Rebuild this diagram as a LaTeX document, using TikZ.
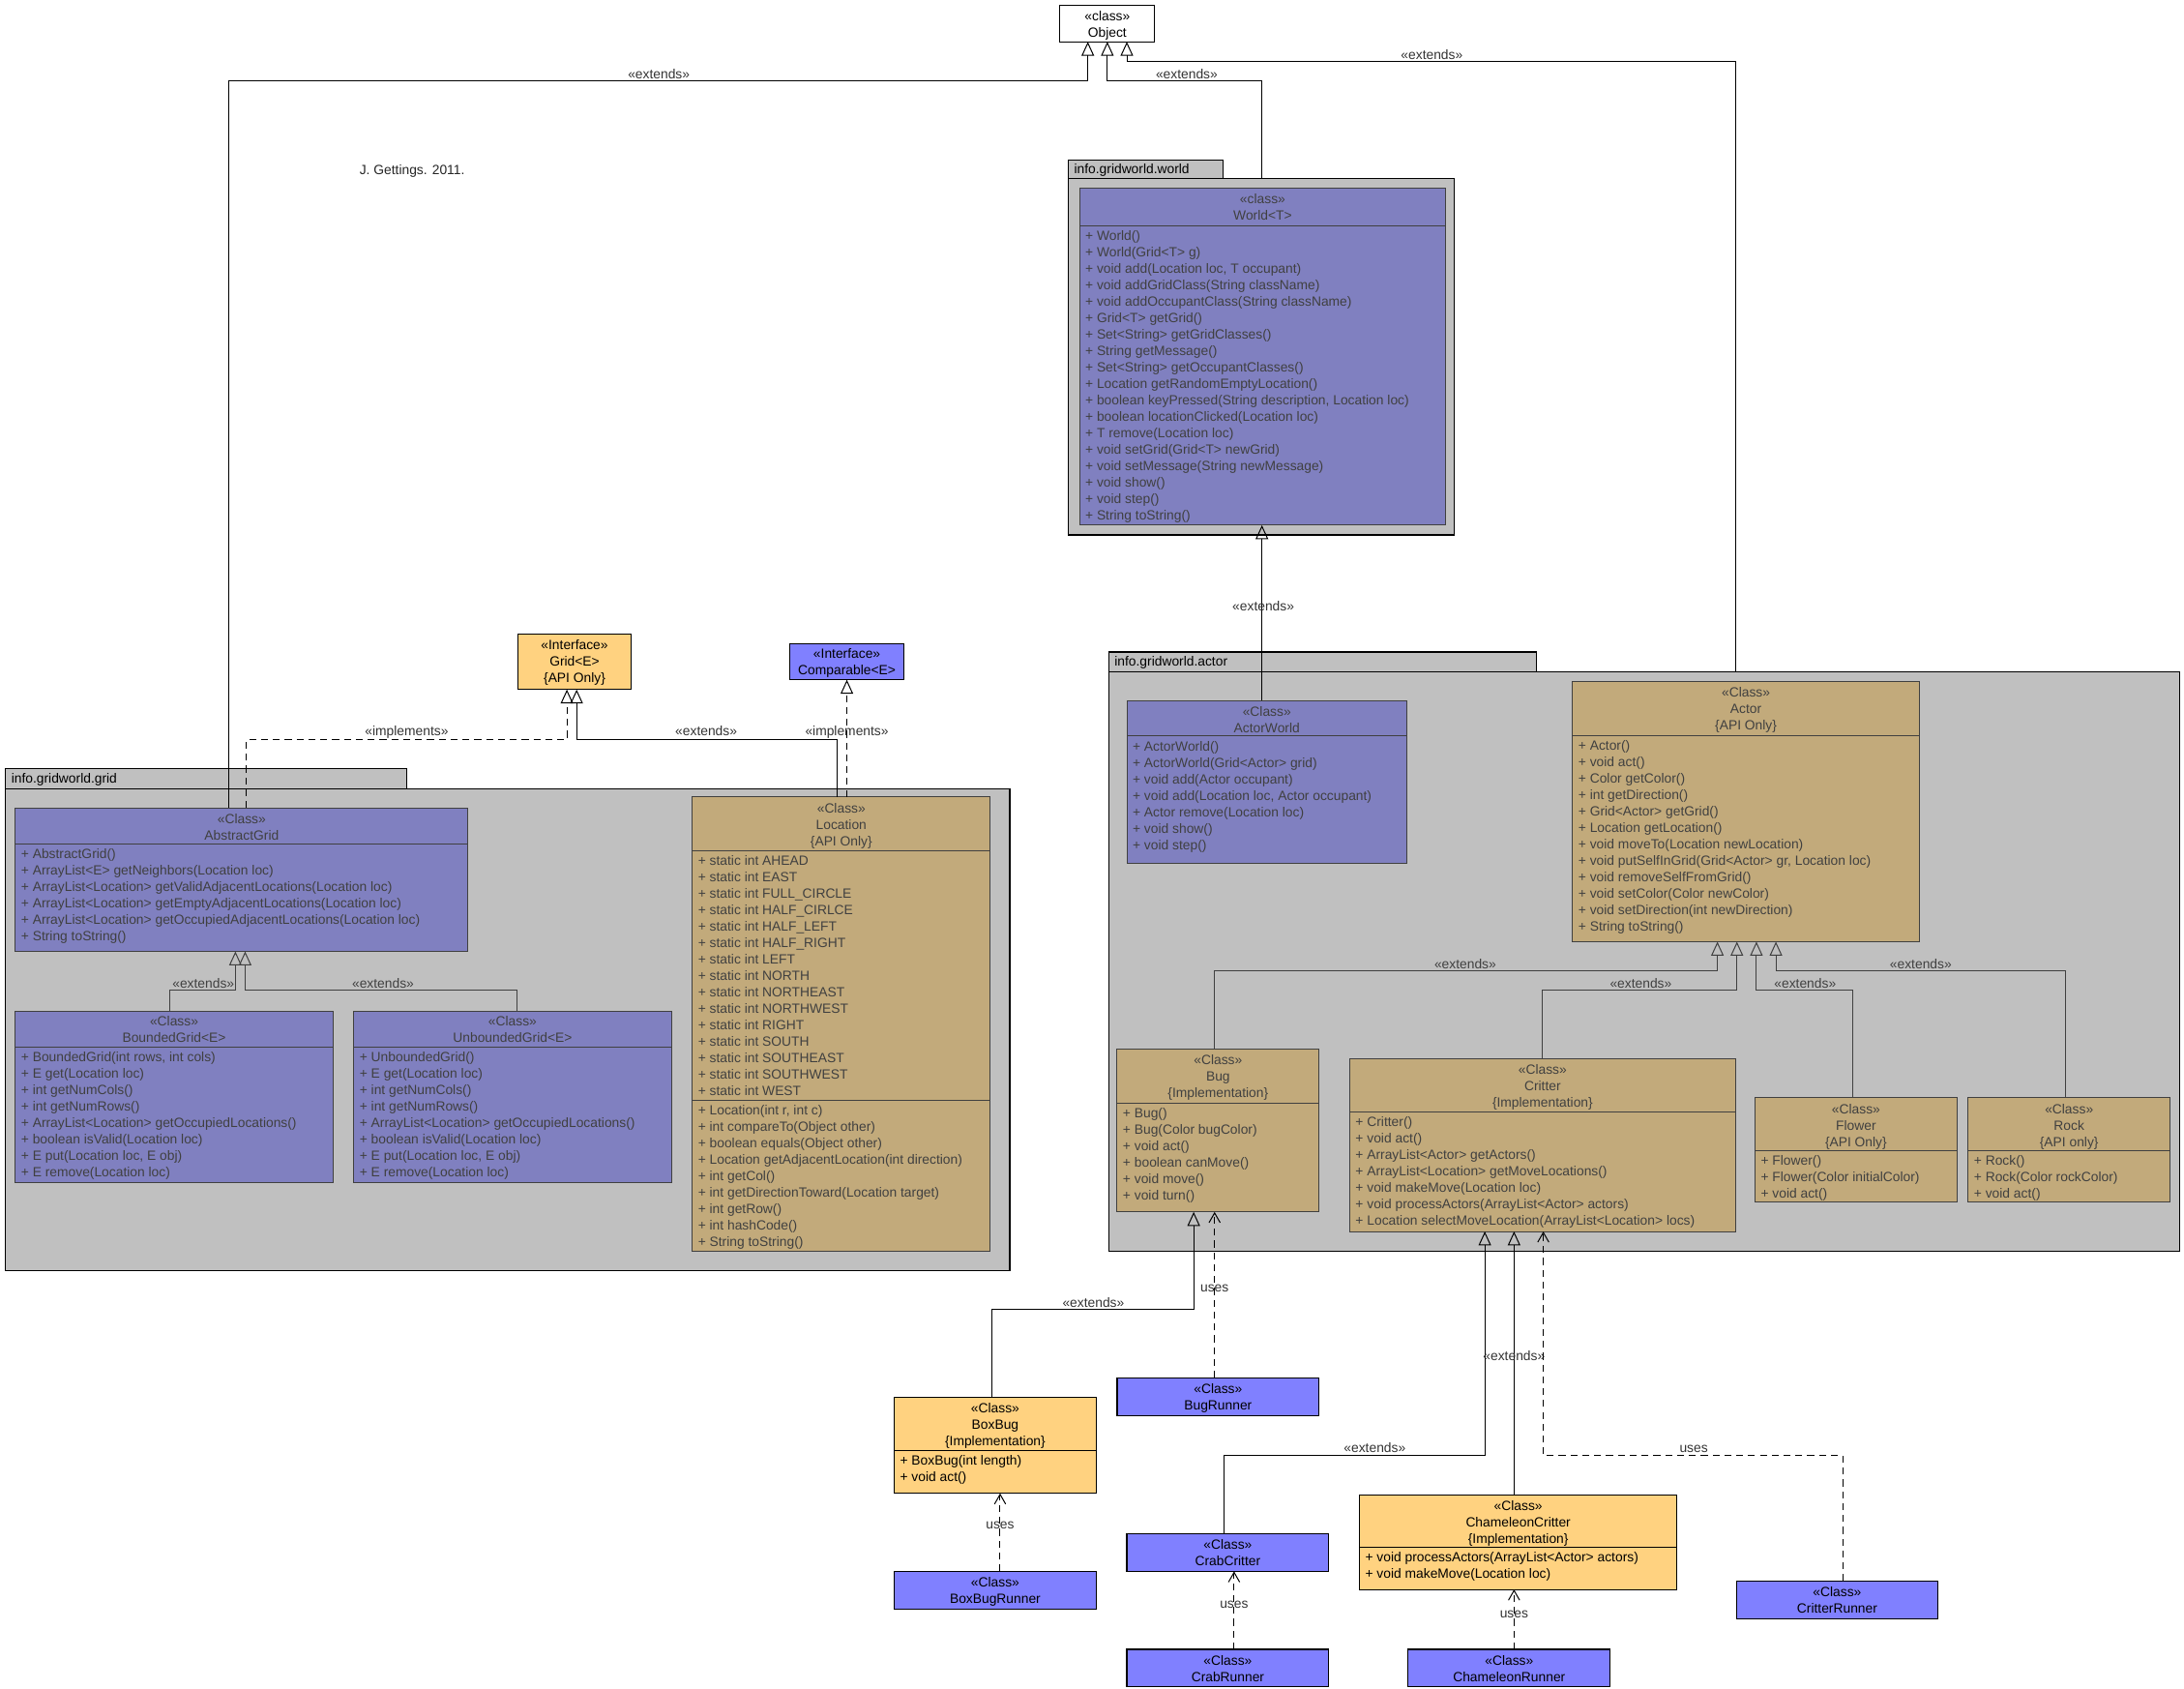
\documentclass[tikz,border=0pt]{standalone}
\usepackage{fontspec}
\setmainfont{Liberation Sans}
\usetikzlibrary{arrows.meta,fit}
\definecolor{pkgc}{HTML}{C0C0C0}
\definecolor{cblue}{HTML}{8080C0}
\definecolor{bblue}{HTML}{8080FF}
\definecolor{ctan}{HTML}{C2AA7B}
\definecolor{corange}{HTML}{FFD280}
\definecolor{dk}{HTML}{404040}
\tikzset{
  every node/.style={font=\fontsize{9.6}{11.8}\selectfont},
  pkg/.style={fill=pkgc, draw=black, line width=0.8pt},
  bluecls/.style={fill=cblue, draw=dk, line width=0.7pt},
  tancls/.style={fill=ctan, draw=dk, line width=0.7pt},
  orcls/.style={fill=corange, draw=black, line width=0.8pt},
  brcls/.style={fill=bblue, draw=black, line width=0.8pt},
  whcls/.style={fill=white, draw=black, line width=0.8pt},
  hd/.style={anchor=base, inner sep=0pt, text=dk},
  mm/.style={anchor=base west, inner sep=0pt, text=dk},
  blk/.style={text=black},
  divl/.style={draw=dk, line width=0.7pt},
  divk/.style={draw=black, line width=0.8pt},
  lbl/.style={anchor=base, inner sep=0pt, text=black!80},
  ext/.style={draw=black, line width=0.7pt, -{Triangle[open, length=10pt, width=9pt]}},
  extg/.style={ext, draw=dk},
  impl/.style={ext, dash pattern=on 5pt off 3.5pt},
  uses/.style={draw=black, line width=0.7pt, dash pattern=on 5pt off 3.5pt, -{Straight Barb[length=7pt, width=8pt]}},
}
\newcommand{\umlbox}[6]{\node[fit={(#2,#3) (#4,#5)}, inner sep=0pt, outer sep=0pt, #6] (#1) {};}
\newcommand{\hdr}[5][]{\foreach \mytxt [count=\myk from 0] in {#5} {\node[hd,#1] (#2h\myk) at (#3,{#4+3.4+\myk*11.8}) {\mytxt};}}
\newcommand{\mem}[5][]{\foreach \mytxt [count=\myk from 0] in {#5} {\node[mm,#1] (#2m\myk) at (#3,{#4+3.4+\myk*11.8}) {\mytxt};}}
\begin{document}
\begin{tikzpicture}[x=1pt,y=-1pt]
\useasboundingbox (0,0) rectangle (1568,1212);
\fill[white] (0,0) rectangle (1568,1212);

% ---------- packages ----------
\umlbox{worldtab}{767}{115}{878}{128}{pkg}
\umlbox{worldpkg}{767}{128}{1044}{384}{pkg}
\node[anchor=base west, inner sep=0pt, text=black] (worldlbl) at (771,124.4) {info.gridworld.world};

\umlbox{actortab}{796}{468}{1103}{482}{pkg}
\umlbox{actorpkg}{796}{482}{1565}{898}{pkg}
\node[anchor=base west, inner sep=0pt, text=black] (actorlbl) at (800,478.4) {info.gridworld.actor};

\umlbox{gridtab}{4}{552}{292}{566}{pkg}
\umlbox{gridpkg}{4}{566}{725}{912}{pkg}
\node[anchor=base west, inner sep=0pt, text=black] (gridlbl) at (8,562.4) {info.gridworld.grid};

\node[anchor=base west, inner sep=0pt, text=black!85] (author) at (258,125.4) {J. Gettings. 2011.};

% ---------- Object ----------
\umlbox{object}{761}{4}{829}{30}{whcls}
\hdr[blk]{object}{795}{11.3}{«class»,Object}

% ---------- World ----------
\umlbox{world}{775}{135}{1038}{377}{bluecls}
\hdr{world}{906.5}{143}{«class»,World<T>}
\draw[divl] (775,162) -- (1038,162);
\mem{world}{779}{169}{{+ World()},{+ World(Grid<T> g)},{+ void add(Location loc, T occupant)},{+ void addGridClass(String className)},{+ void addOccupantClass(String className)},{+ Grid<T> getGrid()},{+ Set<String> getGridClasses()},{+ String getMessage()},{+ Set<String> getOccupantClasses()},{+ Location getRandomEmptyLocation()},{+ boolean keyPressed(String description, Location loc)},{+ boolean locationClicked(Location loc)},{+ T remove(Location loc)},{+ void setGrid(Grid<T> newGrid)},{+ void setMessage(String newMessage)},{+ void show()},{+ void step()},{+ String toString()}}

% ---------- ActorWorld ----------
\umlbox{actorworld}{809}{503}{1010}{620}{bluecls}
\hdr{actorworld}{909.5}{511}{«Class»,ActorWorld}
\draw[divl] (809,528) -- (1010,528);
\mem{actorworld}{813}{536}{{+ ActorWorld()},{+ ActorWorld(Grid<Actor> grid)},{+ void add(Actor occupant)},{+ void add(Location loc, Actor occupant)},{+ Actor remove(Location loc)},{+ void show()},{+ void step()}}

% ---------- Actor ----------
\umlbox{actor}{1129}{489}{1378}{676}{tancls}
\hdr{actor}{1253.5}{497}{«Class»,Actor,\{API Only\}}
\draw[divl] (1129,528) -- (1378,528);
\mem{actor}{1133}{535}{{+ Actor()},{+ void act()},{+ Color getColor()},{+ int getDirection()},{+ Grid<Actor> getGrid()},{+ Location getLocation()},{+ void moveTo(Location newLocation)},{+ void putSelfInGrid(Grid<Actor> gr, Location loc)},{+ void removeSelfFromGrid()},{+ void setColor(Color newColor)},{+ void setDirection(int newDirection)},{+ String toString()}}

% ---------- Bug ----------
\umlbox{bug}{802}{753}{947}{870}{tancls}
\hdr{bug}{874.5}{761}{«Class»,Bug,\{Implementation\}}
\draw[divl] (802,792) -- (947,792);
\mem{bug}{806}{799}{{+ Bug()},{+ Bug(Color bugColor)},{+ void act()},{+ boolean canMove()},{+ void move()},{+ void turn()}}

% ---------- Critter ----------
\umlbox{critter}{969}{760}{1246}{884}{tancls}
\hdr{critter}{1107.5}{768}{«Class»,Critter,\{Implementation\}}
\draw[divl] (969,798) -- (1246,798);
\mem{critter}{973}{805}{{+ Critter()},{+ void act()},{+ ArrayList<Actor> getActors()},{+ ArrayList<Location> getMoveLocations()},{+ void makeMove(Location loc)},{+ void processActors(ArrayList<Actor> actors)},{+ Location selectMoveLocation(ArrayList<Location> locs)}}

% ---------- Flower ----------
\umlbox{flower}{1260}{788}{1405}{863}{tancls}
\hdr{flower}{1332.5}{796}{«Class»,Flower,\{API Only\}}
\draw[divl] (1260,826) -- (1405,826);
\mem{flower}{1264}{833}{{+ Flower()},{+ Flower(Color initialColor)},{+ void act()}}

% ---------- Rock ----------
\umlbox{rock}{1413}{788}{1558}{863}{tancls}
\hdr{rock}{1485.5}{796}{«Class»,Rock,\{API only\}}
\draw[divl] (1413,826) -- (1558,826);
\mem{rock}{1417}{833}{{+ Rock()},{+ Rock(Color rockColor)},{+ void act()}}

% ---------- AbstractGrid ----------
\umlbox{abstract}{11}{580}{336}{683}{bluecls}
\hdr{abstract}{173.5}{588}{«Class»,AbstractGrid}
\draw[divl] (11,606) -- (336,606);
\mem{abstract}{15}{613}{{+ AbstractGrid()},{+ ArrayList<E> getNeighbors(Location loc)},{+ ArrayList<Location> getValidAdjacentLocations(Location loc)},{+ ArrayList<Location> getEmptyAdjacentLocations(Location loc)},{+ ArrayList<Location> getOccupiedAdjacentLocations(Location loc)},{+ String toString()}}

% ---------- BoundedGrid ----------
\umlbox{bounded}{11}{726}{239}{849}{bluecls}
\hdr{bounded}{125}{733}{«Class»,BoundedGrid<E>}
\draw[divl] (11,752) -- (239,752);
\mem{bounded}{15}{759}{{+ BoundedGrid(int rows, int cols)},{+ E get(Location loc)},{+ int getNumCols()},{+ int getNumRows()},{+ ArrayList<Location> getOccupiedLocations()},{+ boolean isValid(Location loc)},{+ E put(Location loc, E obj)},{+ E remove(Location loc)}}

% ---------- UnboundedGrid ----------
\umlbox{unbounded}{254}{726}{482}{849}{bluecls}
\hdr{unbounded}{368}{733}{«Class»,UnboundedGrid<E>}
\draw[divl] (254,752) -- (482,752);
\mem{unbounded}{258}{759}{{+ UnboundedGrid()},{+ E get(Location loc)},{+ int getNumCols()},{+ int getNumRows()},{+ ArrayList<Location> getOccupiedLocations()},{+ boolean isValid(Location loc)},{+ E put(Location loc, E obj)},{+ E remove(Location loc)}}

% ---------- Location ----------
\umlbox{location}{497}{572}{711}{898}{tancls}
\hdr{location}{604}{580}{«Class»,Location,\{API Only\}}
\draw[divl] (497,611) -- (711,611);
\mem{locA}{501}{618}{{+ static int AHEAD},{+ static int EAST},{+ static int FULL\_CIRCLE},{+ static int HALF\_CIRLCE},{+ static int HALF\_LEFT},{+ static int HALF\_RIGHT},{+ static int LEFT},{+ static int NORTH},{+ static int NORTHEAST},{+ static int NORTHWEST},{+ static int RIGHT},{+ static int SOUTH},{+ static int SOUTHEAST},{+ static int SOUTHWEST},{+ static int WEST}}
\draw[divl] (497,790) -- (711,790);
\mem{locB}{501}{797}{{+ Location(int r, int c)},{+ int compareTo(Object other)},{+ boolean equals(Object other)},{+ Location getAdjacentLocation(int direction)},{+ int getCol()},{+ int getDirectionToward(Location target)},{+ int getRow()},{+ int hashCode()},{+ String toString()}}

% ---------- interfaces ----------
\umlbox{grid}{372}{455}{453}{495}{orcls}
\hdr[blk]{grid}{412.5}{463}{«Interface»,Grid<E>,\{API Only\}}
\umlbox{comparable}{567}{462}{649}{488}{brcls}
\hdr[blk]{comparable}{608}{469.3}{«Interface»,Comparable<E>}

% ---------- outside classes ----------
\umlbox{boxbug}{642}{1003}{787}{1072}{orcls}
\hdr[blk]{boxbug}{714.5}{1011}{«Class»,BoxBug,\{Implementation\}}
\draw[divk] (642,1041) -- (787,1041);
\mem[blk]{boxbug}{646}{1048}{{+ BoxBug(int length)},{+ void act()}}

\umlbox{boxbugrunner}{642}{1128}{787}{1155}{brcls}
\hdr[blk]{boxbugrunner}{714.5}{1136}{«Class»,BoxBugRunner}

\umlbox{bugrunner}{802}{989}{947}{1016}{brcls}
\hdr[blk]{bugrunner}{874.5}{997}{«Class»,BugRunner}

\umlbox{crab}{809}{1101}{954}{1128}{brcls}
\hdr[blk]{crab}{881.5}{1109}{«Class»,CrabCritter}

\umlbox{crabrunner}{809}{1184}{954}{1211}{brcls}
\hdr[blk]{crabrunner}{881.5}{1192}{«Class»,CrabRunner}

\umlbox{chameleon}{976}{1073}{1204}{1141}{orcls}
\hdr[blk]{chameleon}{1090}{1081}{«Class»,ChameleonCritter,\{Implementation\}}
\draw[divk] (976,1111) -- (1204,1111);
\mem[blk]{chameleon}{980}{1118}{{+ void processActors(ArrayList<Actor> actors)},{+ void makeMove(Location loc)}}

\umlbox{chamrunner}{1011}{1184}{1156}{1211}{brcls}
\hdr[blk]{chamrunner}{1083.5}{1192}{«Class»,ChameleonRunner}

\umlbox{critterrunner}{1247}{1135}{1391}{1162}{brcls}
\hdr[blk]{critterrunner}{1319}{1143}{«Class»,CritterRunner}

% ---------- connectors to Object ----------
\draw[ext] (abstract.north -| 164,0) |- (781,58) -- (object.south -| 781,0);
\node[lbl] (l1) at (473,56.4) {«extends»};
\draw[ext] (worldpkg.north -| 906,0) |- (795,58) -- (object.south -| 795,0);
\node[lbl] (l2) at (852,56.4) {«extends»};
\draw[ext] (actorpkg.north -| 1246,0) |- (809,44) -- (object.south -| 809,0);
\node[lbl] (l3) at (1028,42.4) {«extends»};

% ActorWorld -> World
\draw[ext] (actorworld.north -| 906,0) -- (world.south -| 906,0);
\node[lbl] (l4) at (907,438.4) {«extends»};

% grid package
\draw[impl] (abstract.north -| 177,0) |- (407,531) -- (grid.south -| 407,0);
\node[lbl] (l5) at (292,528.4) {«implements»};
\draw[ext] (location.north -| 601,0) |- (414,531) -- (grid.south -| 414,0);
\node[lbl] (l6) at (507,528.4) {«extends»};
\draw[impl] (location.north -| 608,0) -- (comparable.south -| 608,0);
\node[lbl] (l7) at (608,528.4) {«implements»};

\draw[extg] (bounded.north -| 122,0) |- (169,711) -- (abstract.south -| 169,0);
\node[lbl,text=dk] (l8) at (146,709.4) {«extends»};
\draw[extg] (unbounded.north -| 371,0) |- (176,711) -- (abstract.south -| 176,0);
\node[lbl,text=dk] (l9) at (275,709.4) {«extends»};

% actor package
\draw[extg] (bug.north -| 872,0) |- (1233,697) -- (actor.south -| 1233,0);
\node[lbl,text=dk] (l10) at (1052,695.4) {«extends»};
\draw[extg] (critter.north -| 1107,0) |- (1247,711) -- (actor.south -| 1247,0);
\node[lbl,text=dk] (l11) at (1178,709.4) {«extends»};
\draw[extg] (flower.north -| 1330,0) |- (1261,711) -- (actor.south -| 1261,0);
\node[lbl,text=dk] (l12) at (1296,709.4) {«extends»};
\draw[extg] (rock.north -| 1483,0) |- (1275,697) -- (actor.south -| 1275,0);
\node[lbl,text=dk] (l13) at (1379,695.4) {«extends»};

% bottom
\draw[ext] (boxbug.north -| 712,0) |- (857,940) -- (bug.south -| 857,0);
\node[lbl] (l14) at (785,938.4) {«extends»};
\draw[uses] (bugrunner.north -| 872,0) -- (bug.south -| 872,0);
\node[lbl] (l15) at (872,927.4) {uses};
\draw[uses] (boxbugrunner.north -| 718,0) -- (boxbug.south -| 718,0);
\node[lbl] (l16) at (718,1097.4) {uses};
\draw[ext] (crab.north -| 879,0) |- (1066,1045) -- (critter.south -| 1066,0);
\node[lbl] (l17) at (987,1042.4) {«extends»};
\draw[ext] (chameleon.north -| 1087,0) -- (critter.south -| 1087,0);
\node[lbl] (l18) at (1087,976.4) {«extends»};
\draw[uses] (critterrunner.north -| 1323,0) |- (1108,1045) -- (critter.south -| 1108,0);
\node[lbl] (l19) at (1216,1042.4) {uses};
\draw[uses] (crabrunner.north -| 886,0) -- (crab.south -| 886,0);
\node[lbl] (l20) at (886,1154.4) {uses};
\draw[uses] (chamrunner.north -| 1087,0) -- (chameleon.south -| 1087,0);
\node[lbl] (l21) at (1087,1161.4) {uses};
\end{tikzpicture}
\end{document}
